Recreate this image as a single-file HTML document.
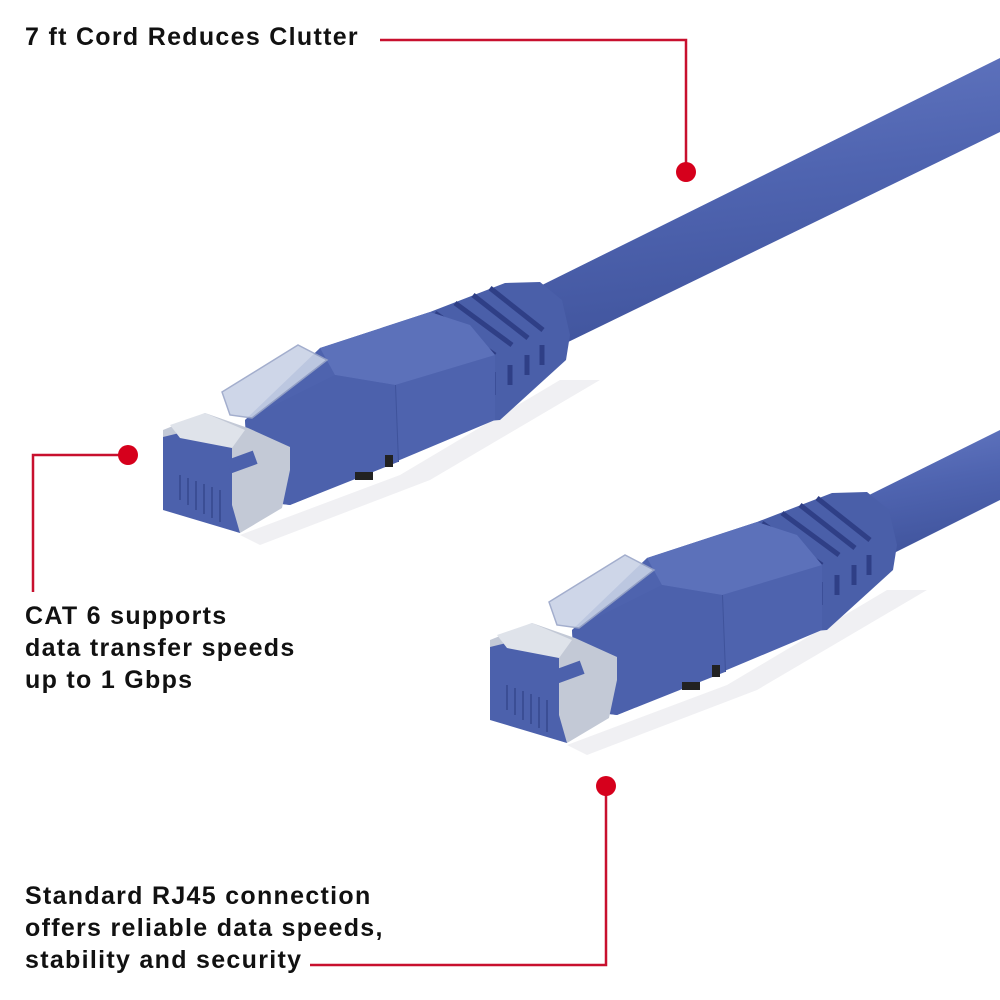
<!DOCTYPE html>
<html><head><style>
html,body{margin:0;padding:0;background:#fff;}
.t{position:absolute;font-family:"Liberation Sans",sans-serif;font-weight:bold;font-size:25px;letter-spacing:1.3px;color:#111;line-height:32px;}
</style></head><body>
<div style="position:relative;width:1000px;height:1000px;overflow:hidden;">
<svg width="1000" height="1000" style="position:absolute;left:0;top:0">
<defs>
<linearGradient id="cab" x1="0" y1="0" x2="0.2" y2="1"><stop offset="0" stop-color="#6478c2"/><stop offset="0.5" stop-color="#4f64b0"/><stop offset="1" stop-color="#41559e"/></linearGradient>
<g id="conn">
 <polygon points="240,535 400,475 560,380 600,380 430,480 260,545" fill="#f0f0f3"/>
 <polygon points="430,312 505,283 540,282 562,300 570,335 566,360 500,420 440,425" fill="#4a5fa9"/>
 <g stroke="#2f3f86" stroke-width="5" fill="none">
  <line x1="435" y1="313" x2="495" y2="355"/>
  <line x1="455" y1="303" x2="512" y2="345"/>
  <line x1="473" y1="295" x2="528" y2="338"/>
  <line x1="490" y1="288" x2="543" y2="330"/>
  <line x1="493" y1="372" x2="493" y2="395"/>
  <line x1="510" y1="365" x2="510" y2="385"/>
  <line x1="527" y1="355" x2="527" y2="375"/>
  <line x1="542" y1="345" x2="542" y2="365"/>
 </g>
 <polygon points="245,420 320,348 430,312 470,325 495,355 495,420 395,462 290,505 250,500" fill="#4e63ae"/>
 <polygon points="320,348 430,312 470,325 495,355 395,385 335,375" fill="#5c71ba"/>
 <line x1="395" y1="385" x2="398" y2="462" stroke="#3f539b" stroke-width="2"/>
 <polygon points="245,420 335,375 395,385 398,462 290,505 250,500" fill="#4c61ac"/>
 <rect x="385" y="455" width="8" height="12" fill="#222"/>
 <rect x="355" y="472" width="18" height="8" fill="#222"/>
 <polygon points="222,392 298,345 327,360 252,418 230,415" fill="#c9d2e6" stroke="#9aa6c8" stroke-width="1.5" opacity="0.9"/>
 <polygon points="163,430 205,413 248,428 290,447 290,470 282,508 240,533 163,508" fill="#c3c9d6"/>
 <polygon points="163,437 200,428 232,445 232,505 240,533 163,510" fill="#4c61ac"/>
 <polygon points="170,425 205,413 245,430 232,448 180,438" fill="#dfe3ea"/>
 <g stroke="#3b4e95" stroke-width="2">
  <line x1="180" y1="475" x2="180" y2="500"/><line x1="188" y1="478" x2="188" y2="505"/>
  <line x1="196" y1="481" x2="196" y2="510"/><line x1="204" y1="484" x2="204" y2="514"/>
  <line x1="212" y1="487" x2="212" y2="518"/><line x1="220" y1="490" x2="220" y2="522"/>
 </g>
 <rect x="228" y="455" width="28" height="14" fill="#4c61ac" transform="rotate(-20 242 462)"/>
</g>
</defs>
<polygon points="528,292 1000,58 1000,132 562,345" fill="url(#cab)"/>
<use href="#conn"/>
<polygon points="855,502 1000,430 1000,500 890,555" fill="url(#cab)"/>
<use href="#conn" transform="translate(327,210)"/>
<g stroke="#c8102e" stroke-width="2.5" fill="none">
 <polyline points="380,40 686,40 686,172"/>
 <polyline points="128,455 33,455 33,592"/>
 <polyline points="606,786 606,965 310,965"/>
</g>
<g fill="#d6001c">
 <circle cx="686" cy="172" r="10"/>
 <circle cx="128" cy="455" r="10"/>
 <circle cx="606" cy="786" r="10"/>
</g>
</svg>
<div class="t" style="left:25px;top:21px;">7 ft Cord Reduces Clutter</div>
<div class="t" style="left:25px;top:600px;">CAT 6 supports<br>data transfer speeds<br>up to 1 Gbps</div>
<div class="t" style="left:25px;top:880px;">Standard RJ45 connection<br>offers reliable data speeds,<br>stability and security</div>
</div>
</body></html>
